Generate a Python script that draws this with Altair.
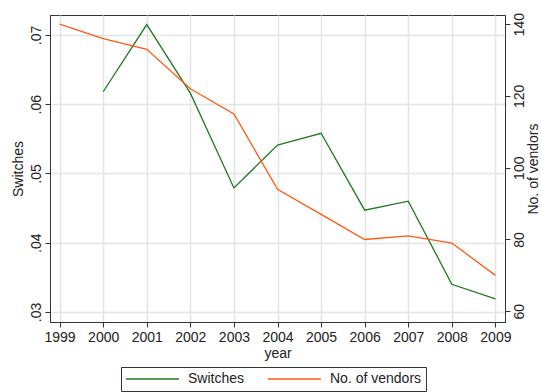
import altair as alt
import pandas as pd

# Yearly series
years = [1999, 2000, 2001, 2002, 2003, 2004, 2005, 2006, 2007, 2008, 2009]
switches = [None, 0.0618, 0.0715, 0.0616, 0.0479, 0.0541, 0.0558, 0.0447, 0.0460, 0.0340, 0.0319]
vendors = [140, 136, 133, 122, 115, 94, 87, 80, 81, 79, 70]

series_names = ["Switches", "No. of vendors"]
series_colors = ["#1f7a1f", "#ff5a14"]

left_ticks = [0.03, 0.04, 0.05, 0.06, 0.07]
right_ticks = [60, 80, 100, 120, 140]

FONT = "Liberation Sans"
INK = "#222222"

sw = pd.DataFrame({"year": years, "value": switches, "series": "Switches"}).dropna()
vd = pd.DataFrame({"year": years, "value": vendors, "series": "No. of vendors"})

color = alt.Color(
    "series:N",
    scale=alt.Scale(domain=series_names, range=series_colors),
    legend=alt.Legend(
        title=None,
        orient="none",
        direction="horizontal",
        legendX=71,
        legendY=352,
        symbolType="stroke",
        symbolSize=2800,
        symbolStrokeWidth=1.5,
        clipHeight=16,
        labelFont=FONT,
        labelFontSize=14,
        labelColor=INK,
        labelOffset=8,
        columnPadding=22,
        padding=4,
        strokeColor="#333333",
    ),
)

x = alt.X(
    "year:Q",
    scale=alt.Scale(domain=[1998.78, 2009.22], nice=False, zero=False),
    axis=alt.Axis(values=years, format="d", title="year", grid=True,
                  labelPadding=3, titlePadding=2),
)

left = alt.Chart(sw).mark_line(strokeWidth=1.3).encode(
    x=x,
    y=alt.Y(
        "value:Q",
        scale=alt.Scale(domain=[0.02855, 0.07288], nice=False, zero=False),
        axis=alt.Axis(
            orient="left",
            values=left_ticks,
            labelExpr="substring(format(datum.value, '.2f'), 1)",
            title="Switches",
            grid=True,
            labelAngle=270,
            labelAlign="center",
            labelBaseline="bottom",
            labelPadding=2,
            titlePadding=4,
        ),
    ),
    color=color,
)

right = alt.Chart(vd).mark_line(strokeWidth=1.3).encode(
    x=x,
    y=alt.Y(
        "value:Q",
        scale=alt.Scale(domain=[57.0, 142.56], nice=False, zero=False),
        axis=alt.Axis(
            orient="right",
            values=right_ticks,
            format="d",
            title="No. of vendors",
            grid=False,
            labelAngle=270,
            labelAlign="center",
            labelBaseline="top",
            labelPadding=2,
            titleAngle=270,
            titleBaseline="top",
            titlePadding=0,
        ),
    ),
    color=color,
)

chart = (
    alt.layer(left, right)
    .resolve_scale(y="independent")
    .properties(
        width=455,
        height=307,
        autosize=alt.AutoSizeParams(type="none"),
        padding={"left": 50, "top": 15, "right": 36, "bottom": 70},
        background="white",
    )
    .configure_view(stroke="#333333", strokeWidth=1)
    .configure_axis(
        labelFont=FONT,
        labelFontSize=14,
        labelColor=INK,
        titleFont=FONT,
        titleFontSize=14,
        titleFontWeight="normal",
        titleColor=INK,
        domainColor="#333333",
        tickColor="#333333",
        tickSize=5,
        gridColor="#e4e4e4",
        gridWidth=1.5,
    )
)

chart.save("out.html", embed_options={"renderer": "svg", "actions": False})
